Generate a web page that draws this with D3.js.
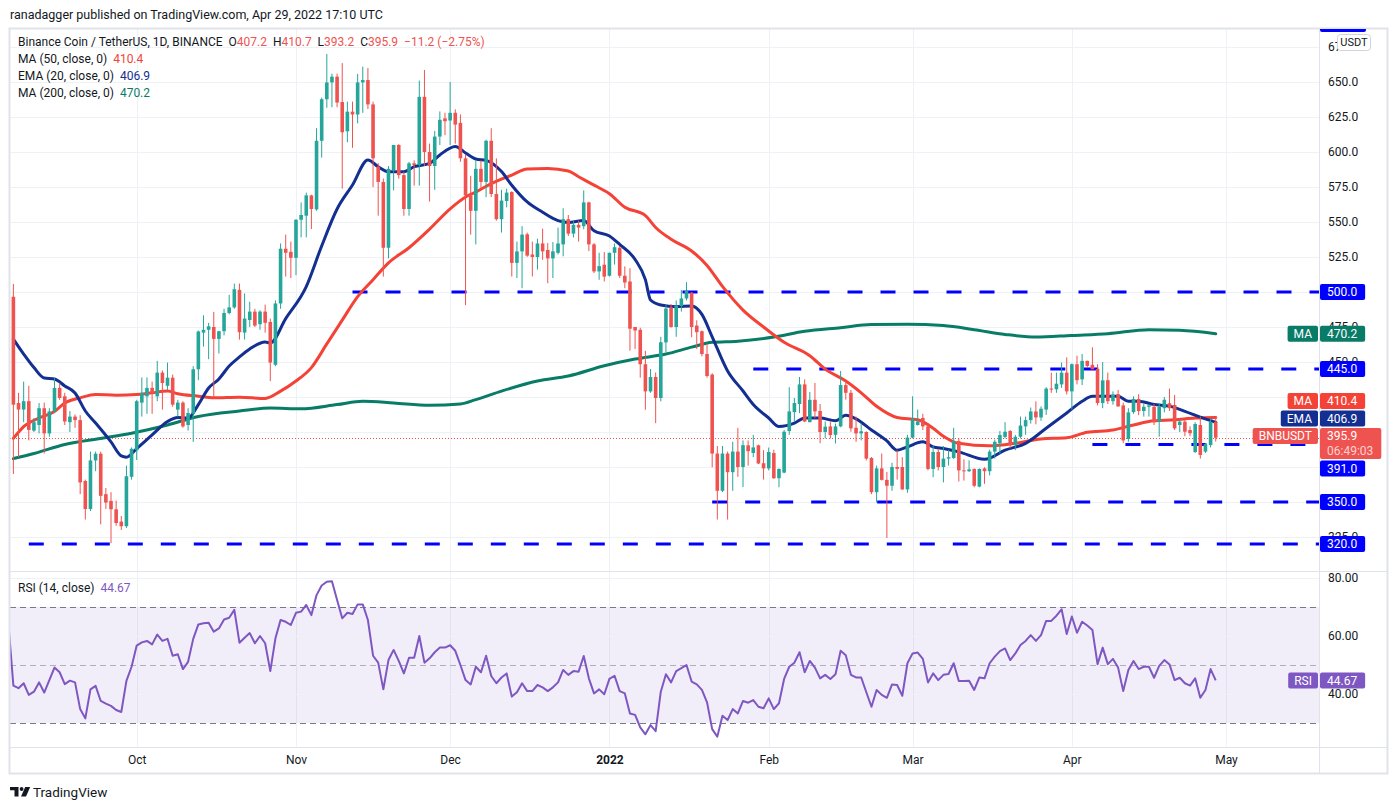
<!DOCTYPE html>
<html>
<head>
<meta charset="utf-8">
<script src="https://cdn.jsdelivr.net/npm/d3@7"></script>
<style>
  body { margin: 0; background: #fff; }
  svg { display: block; font-family: Roboto, "Noto Sans", sans-serif; }
</style>
</head>
<body>
<div id="chart"></div>
<script>
// Daily candles, Binance Coin / TetherUS, one per day from 7 Sep 2021 to 29 Apr 2022
var opens = [496.6,420.7,416,422,401,405,417,399,414.7,431.5,
  425.5,407,411,408.5,365,345,379.7,384.5,355.6,350.8,
  344.8,336,332.7,368,387,421,425.5,431.5,425.5,442.4,
  433,438.8,416,421,405,413,444.8,471,473,475,
  466.5,472,485,489,501.5,471,480,486,477,486,
  478.6,448,491.8,530.9,528.7,524.4,551.6,554.5,569,559,
  608,637.7,649.7,653.8,635.7,614.8,628.8,626.8,649.7,651.4,
  634,589.5,578.6,531.6,587,605,583.5,559.3,591.9,590.7,
  639.4,600,590,611,624,622.5,628,620.8,595.5,569,
  558,588,578.6,608,570,552,565,571.4,520.8,529,
  541.2,526.8,525,534.7,530,524,528,534,552,541.7,
  548,547,564,534,514.7,519.5,511.6,528,531.6,511.6,
  507.5,475,473,448.4,429,439.3,424.3,464,489,475,
  490,495.4,499.5,476,472,455.7,441,384.6,358,384.6,
  371.3,386,375,390.5,385,390.5,377.7,374,385,367,
  371,400.7,414.2,420,434,407,423,415,400,404,
  398,404,433.5,428,403,399,400,381.4,357,374,
  365.8,361.6,375,375,359,396,405,410,404,373.6,
  385.7,375,381,381.4,393.5,372.6,372,373.6,361,374,
  372,386,392,396.5,400.7,390.6,396.6,404,408.5,414.7,
  410.4,416,431,430.5,434,442.4,429,448.4,437.6,450.8,
  448,445,420.7,437,422,427,419,395,414.2,423.6,
  415,418,418,407.4,417,420.5,419.3,405,407.4,401.4,
  385.7,405,386,390.7,407.2];
var highs = [505.8,428,436,433,410,420.7,421,417,439,435,
  428,415,412.5,412,366,386,386,386,360,357,
  351,340,376,389,423,439,439,436,450.8,444,
  449.6,441,423,422,417,447,472.5,483.4,478,485.8,
  472,488,498,506,506,499,493,488,487,491,
  481,494,534.7,541,536,552,564,571,569.5,617,
  638.9,670,656,656,663.5,636,636,655.8,661,660,
  636,592,581,590,605,605.6,586,593,594,651,
  658.6,606,615,629,628,650,630.5,626.8,598,583,
  594,594,608.8,617,595.5,573,573.8,572,536,547,
  542.4,536,538.1,545.3,535,535.7,546,559.8,555,551,
  551,572.6,564.5,535,528,528.5,528,534.7,532.8,518.3,
  517,475,474.5,458,445,442.5,468,490.6,491.3,494,
  501.5,507,500,479.8,472.5,463,442,390,390,386,
  393,403,394,394,398,391,387,388.9,387.3,374,
  401.4,432,424.3,439.3,437.6,428.6,435,420,407.5,407.5,
  406,443.6,435.4,430,411,406,400.5,382.1,376,384.6,
  371.5,378,387,382,398,425.5,416,413,406.4,390,
  388,390,387.3,403,395.5,380.5,379.7,374,374,374.8,
  387.3,394.6,400.7,407,401.4,398,411,411,417.5,421.9,
  418.3,432,442.4,442.4,449.6,453.3,449,454.5,455.7,451,
  460.5,448.4,450,442.4,429,430,421,417,425.5,427,
  420,420,420,420,425,431,426.5,409,409,404,
  407,411,392,410,410.7];
var lows = [370,382,407,394,400,399,384.6,396.6,413.5,423,
  405,400,403,355.6,337.5,343.6,372,334,345,320.6,
  333,330,331.5,366,380,411,413,413,422,416,
  430,418,411,403,401,393,437,461,452,425,
  456,469,484,488,466,466,475,475,473,471,
  436.4,447,488,511,510,512,539,539,545,558,
  596,631.6,632,632,573.8,607,603,620.5,628,630.7,
  575,554.5,511,524,572.6,581,554.5,554.5,576,576,
  590,564.6,573,605,612,605,606,593,490.6,541,
  534,574,567.8,567.8,551,542.5,560.5,511,510,502.7,
  525.1,511.1,516,523,506.3,510,526.8,525.5,540,539,
  536,544.8,529.2,513.5,508.7,507.5,511,519.6,510,502.7,
  458.1,459.3,438.8,415.9,428,406.3,421.9,457,474.5,468,
  486,494,467.7,459.3,454,438.8,374.8,337.5,357,337.5,
  358,368,360.7,376,382,377,366,372.6,366.5,360.5,
  370.5,398,407.5,413.5,407,407,409.8,392,395.4,395.4,
  391.8,403.4,423.1,400.2,393,394,379.7,355.6,349.6,365.3,
  324.3,358,366,358.6,356.6,395.4,404.6,401.4,372.6,367.7,
  372.6,364,376,380.8,364.6,365.3,371.4,360.5,360.5,363,
  369,381,384.6,395.4,388.4,387,395.4,398,406,405.5,
  408,412.2,428,428,431.5,426.8,415.9,434,433.5,446,
  444.8,419,417,420,419.5,418,392,393,413,412,
  411,411,405,396.6,414,415,401.4,400,397,397,
  385,381,385,389,393.2];
var closes = [419.5,416,422,401.5,407,417,399,414.7,431.5,424.3,
  407.5,411,408.5,364,345,379.7,384.5,354.4,349.6,344.8,
  335,332.7,368.4,388,422,428,431.5,428,442.4,435,
  438.8,419.5,421,404,413.5,444.8,471.8,473,475.5,466.5,
  472,485,489,502,471.3,481,486,476,486,478,
  449.6,491.8,530.9,528,524.4,551.6,555,569,559.3,608,
  637.7,649.7,653.8,635.3,614.1,628.8,626.8,649.7,651.4,634,
  595.5,578.6,531.6,588,605,583.5,559.3,591.9,590.7,639.4,
  600,590,611,623,622,628,619.6,595.5,569,558,
  588,578.6,608,570,552,565.3,571,520.8,529,541,
  526,525,534.7,529,524,529,534.7,552,541.7,548,
  546,564,534,514.7,518.5,511,528,532,511.6,506.8,
  473.8,472.5,448.4,429,439.3,424.3,464.1,488.2,475,490,
  495.4,500.8,475,471.3,455.7,440,384.6,358,384.6,371.3,
  386,375,390.6,386.3,389,377.5,374,385.7,367,373.6,
  400.2,414.7,420.7,434,407.5,423,414.7,400,403.8,397.8,
  404,433.5,428,402.6,399,400.5,381,357,374,365.8,
  361.6,375,373.7,359,396,409.4,407.5,404,373.6,385.7,
  375,381,382,393.5,372.6,372,373.3,361.6,373.6,372,
  386,393,397.8,400.2,390.6,396.6,404.6,408.5,414.7,410.4,
  416.6,431,430.5,434.5,442.4,429,448.4,437,450.8,447.2,
  444.8,420.7,436.9,422,426.7,418.3,394,414,423.6,415,
  418,419,407,418,423,417,402.6,407.4,400.2,399.1,
  405.7,383.6,391.4,407.1,395.9];

// moving averages: [day index from 7 Sep 2021, value]
var ma50 = [[0,395.4],[2,403.9],[5,410],[8,414.7],[10,420.7],[13,424.4],[16,426.8],[20,426.3],
  [24,426.8],[27,428],[30,429.2],[32,427.3],[36,425.6],[39,424.4],[44,424.9],[49,424],
  [52,429.2],[55,436.4],[58,446],[61,462.9],[64,479.9],[67,496.7],[70,508.8],[73,520.8],
  [77,531.6],[81,544.9],[85,559.4],[88,567.9],[90,571.4],[93,577.4],[97,583.5],[100,587.9],
  [104,588.3],[108,586.4],[110,582.3],[113,576.3],[116,570.2],[119,560.6],[123,554.6],
  [125,546.1],[128,537.7],[132,529.3],[135,519],[138,504],[142,487.1],[146,475],[150,464.1],
  [155,454.5],[158,444.9],[162,436.4],[165,428],[168,418.4],[172,410.4],[176,408.7],
  [179,402.7],[181,397],[184,391.9],[190,390.1],[195,391.9],[200,395],[205,395.9],
  [209,399.8],[214,401.4],[218,405],[222,408],[226,408.7],[230,410],[234,410.4]];
var ema20 = [[0,466.4],[2,455.7],[4,446],[6,438.6],[8,437.9],[10,432.9],[12,427.9],[14,415],
  [16,406.4],[19,392.9],[21,382.9],[22,382],[24,388.2],[27,397.9],[30,407.5],[32,410.4],
  [34,410],[36,419.6],[38,431.4],[40,437.9],[42,447.1],[44,453.6],[46,459.3],[49,464.3],
  [50,463.6],[53,481],[57,503.9],[60,532.9],[63,559.3],[66,576.4],[69,594.3],[71,589.5],
  [73,585.9],[76,585.9],[78,589.5],[81,591.9],[83,597.9],[86,604],[88,599.3],[90,595],
  [92,594],[95,586],[97,576.3],[100,564.3],[103,557],[106,551],[108,549.7],[111,551],
  [113,543.7],[116,540],[118,534],[121,523.2],[123,508.8],[124,494.3],[126,490.7],
  [129,489.5],[132,490],[134,484],[136,468],[139,443.6],[142,429.3],[144,419.6],[147,410],
  [149,403.9],[152,406.3],[154,410],[157,410],[160,408],[162,411.9],[164,409.4],[167,401.4],
  [170,393.6],[172,387],[174,389.4],[177,393],[179,389.4],[181,388.2],[184,385.8],
  [189,380.5],[193,387],[197,391.9],[201,402.7],[205,413.6],[208,422],[210,425.6],
  [213,425.6],[215,425.6],[217,422],[219,422],[222,419.6],[225,418.5],[228,414.7],
  [231,410.6],[234,406.9]];
var ma200 = [[0,381],[4,384.6],[10,391.1],[17,395.4],[23,399.1],[30,405],[36,411.1],[44,415],
  [50,417.1],[56,416.6],[63,419.6],[68,422],[74,420.8],[81,419.1],[87,420],[90,423.1],
  [95,429.2],[102,436.4],[108,440],[115,447.3],[121,452.1],[127,455.7],[132,460.6],
  [136,464.1],[141,464.9],[148,467.8],[154,471.9],[161,474.5],[167,476.7],[174,476.9],
  [181,476],[187,473.1],[193,469.7],[199,467.8],[206,469],[213,470.2],[221,473.1],
  [227,472.6],[234,470.2]];

// RSI (14, close), one value per day starting 6 Sep 2021
var rsi = [65,42.9,42.0,43.7,39.7,40.8,44.0,40.5,44.8,49.1,47.5,
  43.4,44.6,44.0,34.8,31.6,41.6,42.8,37.6,36.7,35.9,
  34.5,33.8,44.5,49.4,56.7,57.8,58.3,57.1,60.5,58.3,
  59.0,53.2,53.7,48.6,51.1,59.0,64.0,64.4,64.6,61.5,
  62.6,65.7,66.3,69.0,57.7,59.4,61.0,57.5,60.0,57.5,
  47.9,59.2,65.5,64.9,63.8,68.0,68.4,70.7,67.2,74.1,
  77.4,78.7,78.9,72.4,66.1,68.0,67.6,70.9,70.9,65.5,
  53.2,50.8,41.6,51.7,55.2,51.4,47.1,52.5,52.5,60.0,
  50.8,52.3,54.4,56.0,56.0,56.8,54.9,50.0,44.8,43.3,
  49.4,47.5,53.2,46.2,43.7,45.7,47.1,39.1,40.6,43.7,
  41.0,41.0,43.1,42.3,41.0,42.3,44.0,48.3,46.6,47.9,
  47.7,53.1,45.4,40.2,41.6,39.9,45.2,46.3,41.0,40.2,
  33.3,32.8,28.5,26.1,29.3,27.2,40.8,46.8,44.0,47.9,
  48.9,50.0,44.3,43.3,41.4,37.1,27.9,25.3,32.5,31.0,
  34.8,33.3,37.6,37.0,37.9,35.6,35.1,38.5,34.8,36.8,
  45.2,49.4,50.8,54.4,47.5,51.4,49.1,45.4,46.6,45.2,
  46.8,54.9,53.4,46.6,45.7,45.7,40.6,35.6,41.4,39.7,
  38.7,43.3,43.1,39.4,50.6,54.0,54.3,52.1,44.0,47.1,
  44.8,46.6,46.9,50.6,44.5,44.5,44.6,41.4,45.7,45.4,
  50.6,52.9,54.8,55.7,51.7,54.0,56.9,58.3,60.3,58.3,
  60.3,65.2,65.2,67.0,69.2,60.7,66.7,61.1,64.9,63.6,
  62.1,50.3,56.0,50.3,52.1,49.1,41.0,48.3,51.4,48.6,
  49.4,49.4,45.6,49.7,51.7,50.2,44.8,45.6,43.7,42.9,
  45.4,38.7,41.4,48.6,44.67];

// horizontal levels drawn by the author, and the day each one starts
var levelValues = [500, 445, 391, 350, 320];
var levelStarts = ["2021-11-12", "2022-01-29", "2022-04-05", "2022-01-21", "2021-09-10"];

var priceTicks = d3.range(325, 700, 25);
var rsiTicks = [40, 60, 80];
var rsiBands = [70, 50, 30];

// Step 1: chart geometry
//= ================================
var svgWidth = 1397;
var svgHeight = 810;
var pane = { left: 10, right: 1319, top: 29, split: 571, rsiBottom: 747, axisBottom: 773, outer: 1387 };

var upColor = "#26a69a";
var downColor = "#ef5350";
var ma50Color = "#f44336";
var emaColor = "#132f91";
var ma200Color = "#087c67";
var levelColor = "#0000ff";
var rsiColor = "#7e57c2";
var gridColor = "#eef1f6";
var textColor = "#131722";

var day0 = Date.UTC(2021, 8, 7);
function dayDate(i) { return new Date(day0 + i * 864e5); }

var candles = opens.map(function(o, i) {
  return { date: dayDate(i), o: o, h: highs[i], l: lows[i], c: closes[i] };
});

var x = d3.scaleUtc()
  .domain([new Date(Date.UTC(2021, 9, 1)), new Date(Date.UTC(2022, 4, 1))])
  .range([136.7, 1226]);
var y = d3.scaleLinear().domain([400, 650]).range([432, 82]);
var yr = d3.scaleLinear().domain([40, 80]).range([694, 578]);

var svg = d3.select("#chart")
  .append("svg")
  .attr("width", svgWidth)
  .attr("height", svgHeight);

svg.append("rect").attr("width", svgWidth).attr("height", svgHeight).attr("fill", "#fff");

var defs = svg.append("defs");
defs.append("clipPath").attr("id", "clipPrice").append("rect")
  .attr("x", pane.left).attr("y", pane.top)
  .attr("width", pane.right - pane.left).attr("height", pane.split - pane.top);
defs.append("clipPath").attr("id", "clipRsi").append("rect")
  .attr("x", pane.left).attr("y", pane.split + 1)
  .attr("width", pane.right - pane.left).attr("height", pane.rsiBottom - pane.split - 1);
defs.append("clipPath").attr("id", "clipAxis").append("rect")
  .attr("x", pane.right).attr("y", pane.top)
  .attr("width", pane.outer - pane.right).attr("height", pane.rsiBottom - pane.top);

// Step 2: grid
//= ================================
var monthTicks = d3.utcMonth.range(new Date(Date.UTC(2021, 9, 1)), new Date(Date.UTC(2022, 4, 2)));

svg.append("g").selectAll("line")
  .data(monthTicks)
  .enter()
  .append("line")
  .attr("x1", d => Math.round(x(d)) + 0.5)
  .attr("x2", d => Math.round(x(d)) + 0.5)
  .attr("y1", pane.top)
  .attr("y2", pane.rsiBottom)
  .attr("stroke", gridColor);

svg.append("g").selectAll("line")
  .data(priceTicks)
  .enter()
  .append("line")
  .attr("x1", pane.left)
  .attr("x2", pane.right)
  .attr("y1", d => Math.round(y(d)) + 0.5)
  .attr("y2", d => Math.round(y(d)) + 0.5)
  .attr("stroke", gridColor);

// RSI band and guide lines
svg.append("rect")
  .attr("x", pane.left)
  .attr("width", pane.right - pane.left)
  .attr("y", yr(70))
  .attr("height", yr(30) - yr(70))
  .attr("fill", "rgba(126,87,194,0.1)");

svg.append("g").selectAll("line")
  .data(rsiTicks)
  .enter()
  .append("line")
  .attr("x1", pane.left)
  .attr("x2", pane.right)
  .attr("y1", d => Math.round(yr(d)) + 0.5)
  .attr("y2", d => Math.round(yr(d)) + 0.5)
  .attr("stroke", gridColor);

svg.append("g").selectAll("line")
  .data(rsiBands)
  .enter()
  .append("line")
  .attr("x1", pane.left)
  .attr("x2", pane.right)
  .attr("y1", d => Math.round(yr(d)) + 0.5)
  .attr("y2", d => Math.round(yr(d)) + 0.5)
  .attr("stroke", d => d === 50 ? "rgba(120,123,134,0.55)" : "#787b86")
  .attr("stroke-dasharray", "6,4");

// Step 3: price pane
//= ================================
var priceGroup = svg.append("g").attr("clip-path", "url(#clipPrice)");

// author's horizontal levels
priceGroup.selectAll(".level")
  .data(levelValues)
  .enter()
  .append("line")
  .attr("class", "level")
  .attr("x1", (d, i) => x(new Date(levelStarts[i])))
  .attr("x2", pane.right)
  .attr("y1", d => y(d))
  .attr("y2", d => y(d))
  .attr("stroke", levelColor)
  .attr("stroke-width", 3)
  .attr("stroke-dasharray", "15,18");

// last price, dotted
priceGroup.append("line")
  .attr("x1", pane.left)
  .attr("x2", pane.right)
  .attr("y1", Math.round(y(closes[closes.length - 1])) + 0.5)
  .attr("y2", Math.round(y(closes[closes.length - 1])) + 0.5)
  .attr("stroke", downColor)
  .attr("stroke-dasharray", "1,2");

// moving averages
var maLine = d3.line()
  .x(d => x(dayDate(d[0])))
  .y(d => y(d[1]))
  .curve(d3.curveMonotoneX);

[[ma200, ma200Color], [ma50, ma50Color], [ema20, emaColor]].forEach(function(s) {
  priceGroup.append("path")
    .attr("d", maLine(s[0]))
    .attr("fill", "none")
    .attr("stroke", s[1])
    .attr("stroke-width", 3)
    .attr("stroke-linejoin", "round")
    .attr("stroke-linecap", "round");
});

// candles
var bodyWidth = 3.6;
var candleGroup = priceGroup.selectAll(".candle")
  .data(candles)
  .enter()
  .append("g")
  .attr("class", "candle");

candleGroup.append("line")
  .attr("x1", d => x(d.date))
  .attr("x2", d => x(d.date))
  .attr("y1", d => y(d.h))
  .attr("y2", d => y(d.l))
  .attr("stroke", d => d.c >= d.o ? upColor : downColor)
  .attr("stroke-width", 1);

candleGroup.append("rect")
  .attr("x", d => x(d.date) - bodyWidth / 2)
  .attr("width", bodyWidth)
  .attr("y", d => y(Math.max(d.o, d.c)))
  .attr("height", d => Math.max(1, Math.abs(y(d.o) - y(d.c))))
  .attr("fill", d => d.c >= d.o ? upColor : downColor);

// Step 4: RSI pane
//= ================================
var rsiLine = d3.line()
  .x((d, i) => x(dayDate(i - 1)))
  .y(d => yr(d));

svg.append("g").attr("clip-path", "url(#clipRsi)")
  .append("path")
  .attr("d", rsiLine(rsi))
  .attr("fill", "none")
  .attr("stroke", rsiColor)
  .attr("stroke-width", 2)
  .attr("stroke-linejoin", "round");

// Step 5: frame and separators
//= ================================
var frame = svg.append("g").attr("stroke", "#e0e3eb").attr("fill", "none");
frame.append("rect")
  .attr("x", pane.left - 0.5).attr("y", pane.top - 0.5)
  .attr("width", pane.outer - pane.left + 1).attr("height", pane.axisBottom - pane.top + 1)
  .attr("stroke-width", 2);
frame.append("line").attr("x1", pane.left).attr("x2", pane.outer)
  .attr("y1", pane.split + 0.5).attr("y2", pane.split + 0.5);
frame.append("line").attr("x1", pane.left).attr("x2", pane.outer)
  .attr("y1", pane.rsiBottom + 0.5).attr("y2", pane.rsiBottom + 0.5);
frame.append("line").attr("x1", pane.right + 0.5).attr("x2", pane.right + 0.5)
  .attr("y1", pane.top).attr("y2", pane.axisBottom);

// Step 6: labels on the price scale (positions worked out first, so that
// tick labels hidden under them can be left out)
//= ================================
var last = closes.length - 1;
var axisLabels = levelValues.map(v => ({ value: v, color: levelColor }));
axisLabels.push({ value: ma200[ma200.length - 1][1], color: ma200Color, tag: "MA" });
axisLabels.push({ value: ma50[ma50.length - 1][1], color: ma50Color, tag: "MA" });
axisLabels.push({ value: ema20[ema20.length - 1][1], color: emaColor, tag: "EMA" });
axisLabels.push({ value: closes[last], color: downColor, tag: "BNBUSDT", sub: "06:49:03" });

var lineH = 16;
var gap = 1.5;
axisLabels.forEach(function(d) {
  d.h = d.sub ? lineH * 2 - 1 : lineH;
  d.want = y(d.value) - lineH / 2 + d.h / 2;
});
// higher price first, as on the scale
axisLabels.sort((a, b) => b.value - a.value);

// spread overlapping labels into stacks around their weighted centre
var stacks = axisLabels.map(d => ({ items: [d] }));
function stackSize(s) { return d3.sum(s.items, d => d.h) + gap * (s.items.length - 1); }
function stackCentre(s) { return d3.sum(s.items, d => d.want * d.h) / d3.sum(s.items, d => d.h); }
var merged = true;
while (merged) {
  merged = false;
  for (var k = 0; k < stacks.length - 1; k++) {
    var a = stacks[k], b = stacks[k + 1];
    if (stackCentre(a) + stackSize(a) / 2 + gap > stackCentre(b) - stackSize(b) / 2) {
      a.items = a.items.concat(b.items);
      stacks.splice(k + 1, 1);
      merged = true;
      break;
    }
  }
}
stacks.forEach(function(s) {
  var top = stackCentre(s) - stackSize(s) / 2;
  s.items.forEach(function(d) {
    d.top = top;
    top += d.h + gap;
  });
});

function hiddenTick(v) {
  var ty = y(v);
  return axisLabels.some(d => ty > d.top + 3 && ty < d.top + d.h - 3);
}

// Step 7: axes
//= ================================
var priceAxis = svg.append("g")
  .attr("transform", `translate(${pane.right}, 0)`)
  .call(d3.axisRight(y).tickValues(priceTicks.filter(v => !hiddenTick(v)))
    .tickSize(0).tickPadding(9).tickFormat(d3.format(".1f")));
priceAxis.select(".domain").remove();
priceAxis.attr("font-family", null).attr("font-size", 12).attr("color", textColor);

var rsiAxis = svg.append("g")
  .attr("transform", `translate(${pane.right}, 0)`)
  .call(d3.axisRight(yr).tickValues(rsiTicks).tickSize(0).tickPadding(9).tickFormat(d3.format(".2f")));
rsiAxis.select(".domain").remove();
rsiAxis.attr("font-family", null).attr("font-size", 12).attr("color", textColor);

var timeAxis = svg.append("g")
  .attr("transform", `translate(0, ${pane.rsiBottom})`)
  .call(d3.axisBottom(x).tickValues(monthTicks).tickSize(0).tickPadding(8)
    .tickFormat(d => d.getUTCMonth() === 0 ? d.getUTCFullYear() : d3.utcFormat("%b")(d)));
timeAxis.select(".domain").remove();
timeAxis.attr("font-family", null).attr("font-size", 12).attr("color", textColor);
timeAxis.selectAll("text").attr("font-weight", d => d.getUTCMonth() === 0 ? "bold" : null);

// draw the scale labels
var labelGroup = svg.append("g").attr("clip-path", "url(#clipAxis)");
// a level above the visible range leaves its label pinned at the top edge
labelGroup.append("rect")
  .attr("x", pane.right + 1).attr("y", pane.top - 6)
  .attr("width", 46).attr("height", 9).attr("rx", 2)
  .attr("fill", levelColor);

axisLabels.forEach(function(d) {
  var g = labelGroup.append("g");
  var main = g.append("text")
    .attr("x", pane.right + 8)
    .attr("y", d.top + lineH / 2)
    .attr("dy", "0.35em")
    .attr("font-size", 12)
    .attr("fill", "#fff")
    .text(d.value.toFixed(1));
  var w = main.node().getComputedTextLength();
  if (d.sub) {
    var sub = g.append("text")
      .attr("x", pane.right + 8)
      .attr("y", d.top + lineH / 2 + 15)
      .attr("dy", "0.35em")
      .attr("font-size", 12)
      .attr("fill", "#fcd2d1")
      .text(d.sub);
    w = Math.max(w, sub.node().getComputedTextLength());
  }
  g.insert("rect", "text")
    .attr("x", pane.right + 1)
    .attr("y", d.top)
    .attr("width", w + 15)
    .attr("height", d.h)
    .attr("rx", 2)
    .attr("fill", d.color);
});

// tags sit left of the scale, outside the axis clip
axisLabels.filter(d => d.tag).forEach(function(d) {
  var g = svg.append("g");
  var t = g.append("text")
    .attr("y", d.top + lineH / 2)
    .attr("dy", "0.35em")
    .attr("font-size", 12)
    .attr("fill", "#fff")
    .attr("text-anchor", "middle")
    .text(d.tag);
  var w = t.node().getComputedTextLength() + 12;
  t.attr("x", pane.right - 1 - w / 2);
  g.insert("rect", "text")
    .attr("x", pane.right - 1 - w)
    .attr("y", d.top)
    .attr("width", w)
    .attr("height", lineH)
    .attr("rx", 2)
    .attr("fill", d.color);
});

// RSI label
var rsiLast = rsi[rsi.length - 1];
var rsiG = svg.append("g");
var rsiVal = rsiG.append("text")
  .attr("x", pane.right + 8)
  .attr("y", yr(rsiLast))
  .attr("dy", "0.35em")
  .attr("font-size", 12)
  .attr("fill", "#fff")
  .text(rsiLast.toFixed(2));
rsiG.insert("rect", "text")
  .attr("x", pane.right + 1)
  .attr("y", yr(rsiLast) - lineH / 2)
  .attr("width", rsiVal.node().getComputedTextLength() + 15)
  .attr("height", lineH)
  .attr("rx", 2)
  .attr("fill", rsiColor);
var rsiTag = rsiG.append("text")
  .attr("y", yr(rsiLast))
  .attr("dy", "0.35em")
  .attr("font-size", 12)
  .attr("fill", "#fff")
  .attr("text-anchor", "middle")
  .text("RSI");
var rsiTagW = rsiTag.node().getComputedTextLength() + 12;
rsiTag.attr("x", pane.right - 1 - rsiTagW / 2);
rsiG.insert("rect", "text")
  .attr("x", pane.right - 1 - rsiTagW)
  .attr("y", yr(rsiLast) - lineH / 2)
  .attr("width", rsiTagW)
  .attr("height", lineH)
  .attr("rx", 2)
  .attr("fill", rsiColor);

// currency button over the top of the scale
svg.append("rect")
  .attr("x", 1337.5).attr("y", 34.5).attr("width", 33).attr("height", 16).attr("rx", 3)
  .attr("fill", "#fff").attr("stroke", "#d1d4dc");
svg.append("text")
  .attr("x", 1354).attr("y", 42.5).attr("dy", "0.35em")
  .attr("text-anchor", "middle").attr("font-size", 11).attr("fill", textColor)
  .text("USDT");

// Step 8: legends and titles
//= ================================
svg.append("text")
  .attr("x", 10).attr("y", 15).attr("dy", "0.35em")
  .attr("font-size", 12.5).attr("fill", textColor)
  .text("ranadagger published on TradingView.com, Apr 29, 2022 17:10 UTC");

var change = closes[last] - closes[last - 1];
var legend = svg.append("text")
  .attr("x", 18).attr("y", 42).attr("dy", "0.35em")
  .attr("font-size", 12).attr("fill", textColor)
  .attr("xml:space", "preserve");
legend.append("tspan").text("Binance Coin / TetherUS, 1D, BINANCE  ");
[["O", opens[last]], ["H", highs[last]], ["L", lows[last]], ["C", closes[last]]].forEach(function(p) {
  legend.append("tspan").text(p[0]);
  legend.append("tspan").attr("fill", downColor).text(p[1].toFixed(1) + "  ");
});
legend.append("tspan").attr("fill", downColor)
  .text(d3.format("+.1f")(change).replace("+", "") + " (" + d3.format(".2%")(change / closes[last - 1]) + ")");

var maLegend = [
  ["MA (50, close, 0)", ma50[ma50.length - 1][1], ma50Color],
  ["EMA (20, close, 0)", ema20[ema20.length - 1][1], emaColor],
  ["MA (200, close, 0)", ma200[ma200.length - 1][1], ma200Color]
];
maLegend.forEach(function(m, i) {
  var t = svg.append("text")
    .attr("x", 18).attr("y", 59 + i * 16.7).attr("dy", "0.35em")
    .attr("font-size", 12).attr("fill", textColor)
    .attr("xml:space", "preserve");
  t.append("tspan").text(m[0] + "  ");
  t.append("tspan").attr("fill", m[2]).text(m[1].toFixed(1));
});

var rsiLegend = svg.append("text")
  .attr("x", 18).attr("y", 588).attr("dy", "0.35em")
  .attr("font-size", 12).attr("fill", textColor)
  .attr("xml:space", "preserve");
rsiLegend.append("tspan").text("RSI (14, close)  ");
rsiLegend.append("tspan").attr("fill", rsiColor).text(rsiLast.toFixed(2));

// TradingView mark
var logo = svg.append("g").attr("fill", textColor);
logo.append("path").attr("d", "M10 787h8.5v9.5h-4v-6.2h-4.5z");
logo.append("circle").attr("cx", 21.6).attr("cy", 789).attr("r", 1.9);
logo.append("path").attr("d", "M25.2 787h5l-4.2 9.5h-5z");
svg.append("text")
  .attr("x", 33).attr("y", 792).attr("dy", "0.35em")
  .attr("font-size", 13.5).attr("fill", textColor)
  .text("TradingView");
</script>
</body>
</html>
